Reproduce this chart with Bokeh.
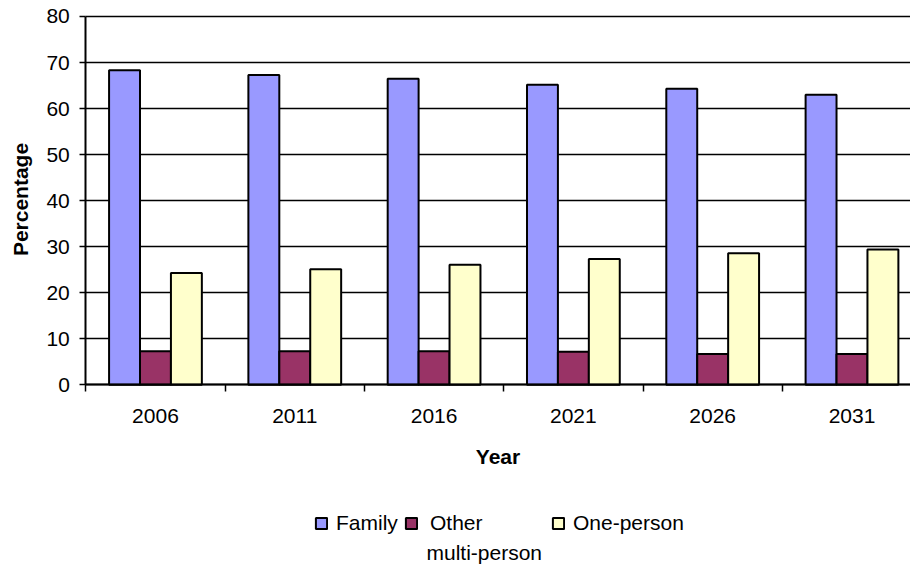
import math
from bokeh.plotting import figure
from bokeh.models import Range1d, FixedTicker, Legend, LegendItem, ColumnDataSource, Label
from bokeh.embed import file_html
from bokeh.resources import INLINE

years = ["2006", "2011", "2016", "2021", "2026", "2031"]
family = [68.3, 67.3, 66.5, 65.2, 64.3, 63.0]
other_multi = [7.3, 7.3, 7.3, 7.2, 6.7, 6.7]
one_person = [24.3, 25.1, 26.1, 27.3, 28.6, 29.4]
y_ticks = [0, 10, 20, 30, 40, 50, 60, 70, 80]

FONT = "Liberation Sans"
FS = "21px"
BAR_W = 0.222
X_END = 5.92

centers = [i + 0.5 for i in range(len(years))]
src = ColumnDataSource(dict(
    x_f=[c - BAR_W for c in centers],
    x_o=centers,
    x_p=[c + BAR_W for c in centers],
    family=family, other=other_multi, one=one_person,
))

p = figure(width=910, height=565, output_backend="svg", toolbar_location=None,
           x_range=Range1d(-0.6124, X_END), y_range=Range1d(-39.25, 83.475),
           min_border_left=0, min_border_right=0, min_border_top=0, min_border_bottom=0)
p.outline_line_color = None
p.background_fill_color = "white"
p.border_fill_color = "white"

r1 = p.vbar(x="x_f", top="family", width=BAR_W, source=src,
            fill_color="#9999FF", line_color="black", line_width=2)
r2 = p.vbar(x="x_o", top="other", width=BAR_W, source=src,
            fill_color="#993366", line_color="black", line_width=2)
r3 = p.vbar(x="x_p", top="one", width=BAR_W, source=src,
            fill_color="#FFFFCC", line_color="black", line_width=2)

# grids
p.xgrid.grid_line_color = None
p.ygrid.grid_line_color = "black"
p.ygrid.grid_line_width = 1.3
p.ygrid.ticker = FixedTicker(ticks=y_ticks)
p.ygrid.cross_bounds = (0, X_END)

# y axis, drawn at x = 0 inside the frame
ya = p.yaxis[0]
ya.fixed_location = 0
ya.ticker = FixedTicker(ticks=y_ticks)
ya.bounds = (0, 80)
ya.major_label_text_font = FONT
ya.major_label_text_font_size = FS
ya.major_label_text_color = "black"
ya.major_label_standoff = 10
ya.major_tick_out = 6
ya.major_tick_in = 0
ya.minor_tick_out = 0
ya.minor_tick_in = 0
ya.axis_line_width = 2
ya.major_tick_line_width = 1.5

# x axis, drawn at y = 0 inside the frame
xa = p.xaxis[0]
xa.fixed_location = 0
xa.bounds = (0, X_END)
xa.ticker = FixedTicker(ticks=centers, minor_ticks=list(range(len(years) + 1)))
xa.major_label_overrides = {c: y for c, y in zip(centers, years)}
xa.axis_label = "Year"
xa.axis_label_text_font = FONT
xa.axis_label_text_font_size = FS
xa.axis_label_text_font_style = "bold"
xa.axis_label_text_color = "black"
xa.axis_label_standoff = 19
xa.major_label_text_font = FONT
xa.major_label_text_font_size = FS
xa.major_label_text_color = "black"
xa.major_label_standoff = 17
xa.major_tick_out = 0
xa.major_tick_in = 0
xa.minor_tick_out = 7
xa.minor_tick_in = 0
xa.minor_tick_line_color = "black"
xa.minor_tick_line_width = 1.5
xa.axis_line_width = 2

# y axis title
p.add_layout(Label(x=20, y=366, x_units="screen", y_units="screen", text="Percentage",
                   angle=math.pi / 2, text_align="center", text_baseline="middle",
                   text_font=FONT, text_font_size=FS, text_font_style="bold",
                   text_color="black"))


def make_legend(label, renderer, vx, standoff):
    lg = Legend(items=[LegendItem(label=label, renderers=[renderer])],
                location=(vx, 30), orientation="horizontal")
    lg.label_text_font = FONT
    lg.label_text_font_size = FS
    lg.label_text_color = "black"
    lg.glyph_width = 14
    lg.glyph_height = 14
    lg.label_standoff = standoff
    lg.padding = 0
    lg.margin = 0
    lg.border_line_color = None
    lg.background_fill_alpha = 0
    p.add_layout(lg, "center")


make_legend("Family", r1, 314, 8)
make_legend("Other", r2, 404, 12)
make_legend("One-person", r3, 551, 8)

p.add_layout(Label(x=426, y=13, x_units="screen", y_units="screen", text="multi-person",
                   text_font=FONT, text_font_size=FS, text_color="black",
                   text_baseline="middle"))

open("out.html", "w").write(file_html(p, INLINE))
